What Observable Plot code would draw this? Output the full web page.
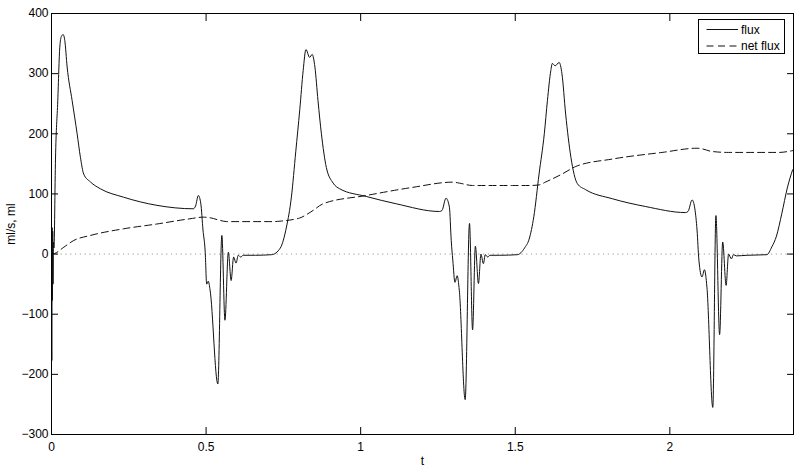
<!DOCTYPE html>
<html>
<head>
<meta charset="utf-8">
<script src="https://cdn.jsdelivr.net/npm/d3@7"></script>
<script src="https://cdn.jsdelivr.net/npm/@observablehq/plot@0.6"></script>
<style>
  html, body { margin: 0; padding: 0; background: #fff; }
  #wrap { position: relative; width: 803px; height: 469px; font-family: "Liberation Sans", Arial, Helvetica, sans-serif; }
  #legend { position: absolute; left: 698px; top: 19px; }
</style>
</head>
<body>
<div id="wrap"></div>
<script>
// ---- data ----
const fluxT = [0, 0.001, 0.002, 0.003, 0.004, 0.005, 0.006, 0.008, 0.0129, 0.0203, 0.0268, 0.032, 0.0377, 0.043, 0.0506, 0.0668, 0.0829, 0.0935, 0.1042, 0.1258, 0.158, 0.233, 0.341, 0.459, 0.466, 0.475, 0.483, 0.490, 0.497, 0.502, 0.507, 0.513, 0.538, 0.551, 0.561, 0.572, 0.581, 0.589, 0.597, 0.604, 0.612, 0.620, 0.66, 0.712, 0.74, 0.76, 0.776, 0.79, 0.803, 0.814, 0.823, 0.835, 0.843, 0.852, 0.862, 0.873, 0.889, 0.911, 0.932, 1.018, 1.115, 1.255, 1.263, 1.276, 1.287, 1.293, 1.298, 1.305, 1.312, 1.319, 1.338, 1.352, 1.362, 1.371, 1.381, 1.389, 1.397, 1.403, 1.411, 1.418, 1.45, 1.507, 1.53, 1.545, 1.56, 1.577, 1.594, 1.604, 1.615, 1.620, 1.629, 1.642, 1.651, 1.663, 1.680, 1.701, 1.728, 1.814, 1.922, 2.051, 2.059, 2.072, 2.081, 2.088, 2.094, 2.104, 2.112, 2.120, 2.139, 2.149, 2.161, 2.171, 2.182, 2.190, 2.199, 2.206, 2.215, 2.25, 2.314, 2.33, 2.345, 2.362, 2.38, 2.397];
const fluxV = [0, -177, 44, -77, 38, -50, 20, 10, 158, 255, 344, 362, 365, 355, 311, 255, 200, 161, 133, 120, 108.6, 94.6, 81, 75.3, 80, 97.4, 83.6, 40, 5, -50, -45, -60, -216, 31, -110, 3, -44, -5, -15, -2, -5, -2, -2, -1, 10, 45, 95, 170, 240, 305, 340, 327, 332, 311, 255, 200, 144, 118, 108.6, 95.8, 83.6, 70.8, 72.5, 93, 78, 22, -10, -47, -36, -60, -242, 51, -126, 13, -49, 0, -16, -1, -5, -2, -2, -1, 10, 25, 62, 133, 200, 255, 305, 317, 313, 318.6, 300, 233, 161, 117, 107, 92, 79, 69, 71, 90, 75, 40, -10, -38, -26, -55, -255, 64, -134, 20, -52, 0, -8, -1, -3, -2, -1, 12, 30, 67, 110, 140];
const netT = [0, 0.01, 0.04, 0.072, 0.126, 0.233, 0.341, 0.448, 0.491, 0.513, 0.545, 0.567, 0.717, 0.739, 0.782, 0.803, 0.846, 0.878, 1.018, 1.169, 1.298, 1.319, 1.362, 1.491, 1.545, 1.577, 1.599, 1.653, 1.696, 1.814, 1.975, 2.088, 2.104, 2.136, 2.190, 2.352, 2.397];
const netV = [0, 1, 11.5, 22.6, 31, 42, 50, 58.7, 61.4, 60.4, 56, 54, 54, 54.7, 57.5, 60, 72.5, 83.6, 97.4, 111, 119.6, 118, 114, 114, 114, 115, 120, 133.5, 145.7, 158, 169, 176, 175, 170.6, 169, 169, 172];
const xTicks = [0, 0.5, 1, 1.5, 2];
const yTicks = [-300, -200, -100, 0, 100, 200, 300, 400];
const seriesNames = ["flux", "net flux"];
const axisLabels = {x: "t", y: "ml/s, ml"};

const flux = fluxT.map((t, i) => ({t, v: fluxV[i]}));
const net = netT.map((t, i) => ({t, v: netV[i]}));

const chart = Plot.plot({
  width: 803,
  height: 469,
  marginLeft: 51,
  marginRight: 10,
  marginTop: 13,
  marginBottom: 35,
  style: {fontFamily: '"Liberation Sans", Arial, Helvetica, sans-serif', fontSize: "12px", color: "#000", background: "#fff"},
  x: {domain: [0, 2.4]},
  y: {domain: [-300, 400]},
  marks: [
    Plot.ruleY([0], {stroke: "#9a9a9a", strokeDasharray: "1.2,3.6", strokeWidth: 1}),
    Plot.line(net, {x: "t", y: "v", stroke: "#111", strokeWidth: 1, strokeDasharray: "7,4", curve: "monotone-x"}),
    Plot.line(flux, {x: "t", y: "v", stroke: "#111", strokeWidth: 1, curve: "monotone-x"}),
    Plot.frame({stroke: "#000", strokeWidth: 1}),
    Plot.axisX(xTicks, {anchor: "bottom", tickSize: 0, tickPadding: 8, tickFormat: d => String(d), label: axisLabels.x, labelAnchor: "center", labelArrow: "none", labelOffset: 30}),
    Plot.axisX(xTicks, {anchor: "bottom", tickSize: -7, fill: "none", label: null, stroke: "#000"}),
    Plot.axisX(xTicks, {anchor: "top", tickSize: -7, fill: "none", label: null, stroke: "#000"}),
    Plot.axisY(yTicks, {anchor: "left", tickSize: 0, tickPadding: 3, label: axisLabels.y, labelAnchor: "center", labelArrow: "none", labelOffset: 45}),
    Plot.axisY(yTicks, {anchor: "left", tickSize: -7, fill: "none", label: null, stroke: "#000"}),
    Plot.axisY(yTicks, {anchor: "right", tickSize: -7, fill: "none", label: null, stroke: "#000"})
  ]
});
const wrap = document.getElementById("wrap");
wrap.appendChild(chart);

// legend overlay (inside the plot frame, top-right)
const ns = "http://www.w3.org/2000/svg";
const leg = document.createElementNS(ns, "svg");
leg.setAttribute("id", "legend");
leg.setAttribute("width", 88);
leg.setAttribute("height", 36);
const rect = document.createElementNS(ns, "rect");
rect.setAttribute("x", 0.5); rect.setAttribute("y", 0.5);
rect.setAttribute("width", 86); rect.setAttribute("height", 34);
rect.setAttribute("fill", "#fff"); rect.setAttribute("stroke", "#000");
leg.appendChild(rect);
seriesNames.forEach((name, i) => {
  const yy = 10.5 + i * 16.5;
  const ln = document.createElementNS(ns, "line");
  ln.setAttribute("x1", 8.5); ln.setAttribute("x2", 40);
  ln.setAttribute("y1", yy); ln.setAttribute("y2", yy);
  ln.setAttribute("stroke", "#111");
  if (i === 1) ln.setAttribute("stroke-dasharray", "7,4.5");
  leg.appendChild(ln);
  const tx = document.createElementNS(ns, "text");
  tx.setAttribute("x", 43); tx.setAttribute("y", yy);
  tx.setAttribute("dy", "0.35em");
  tx.setAttribute("font-size", "12px");
  tx.setAttribute("font-family", '"Liberation Sans", Arial, sans-serif');
  tx.textContent = name;
  leg.appendChild(tx);
});
wrap.appendChild(leg);
</script>
</body>
</html>
